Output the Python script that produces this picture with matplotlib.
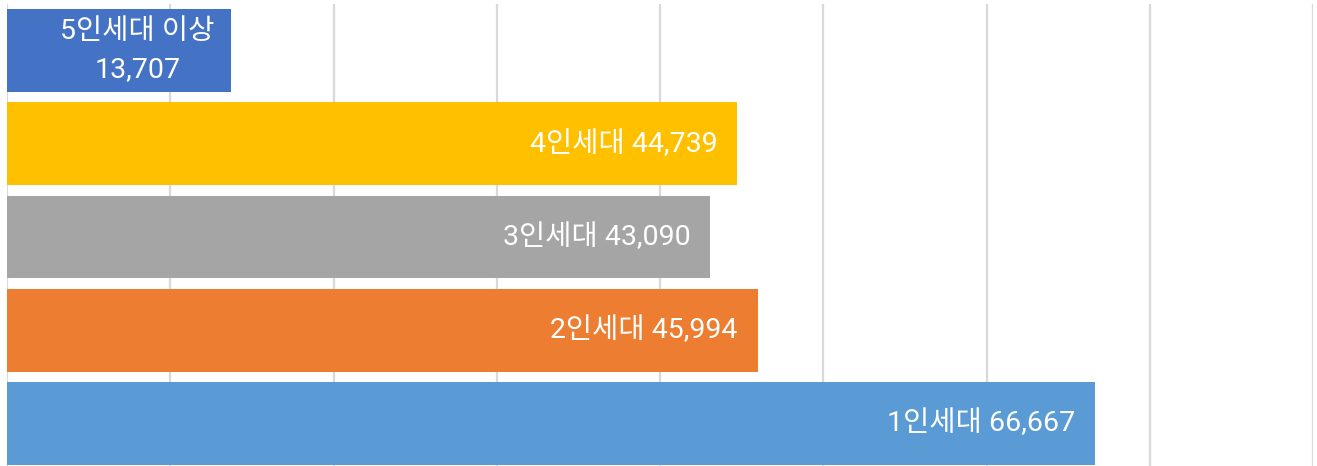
import matplotlib.pyplot as plt

plt.rcParams['font.family'] = ['Roboto', 'Noto Sans CJK KR', 'DejaVu Sans']

# 세대원수별 데이터
labels = ['1인세대', '2인세대', '3인세대', '4인세대', '5인세대 이상']
values = [66667, 45994, 43090, 44739, 13707]
colors = ['#5B9BD5', '#ED7D31', '#A5A5A5', '#FFC000', '#4472C4']
ticks = [0, 10000, 20000, 30000, 40000, 50000, 60000, 70000, 80000]

fig = plt.figure(figsize=(13.17, 4.66), dpi=100)
ax = fig.add_axes([7 / 1317, 0, 1306 / 1317, 462 / 466])

y = list(range(len(values)))
ax.barh(y, values, height=0.89, color=colors, zorder=2)

for i, (lab, v) in enumerate(zip(labels, values)):
    if v < 20000:
        # 좁은 막대는 두 줄로
        txt = lab + '\n' + format(v, ',')
        ax.text(v - 1000, i, txt, ha='right', va='center', multialignment='center',
                color='white', fontsize=20.5, linespacing=1.5, zorder=3)
    else:
        txt = lab + ' ' + format(v, ',')
        ax.text(v - 1230, i, txt, ha='right', va='center', color='white',
                fontsize=20.5, zorder=3)

ax.set_xlim(0, 80000)
ax.set_ylim(-0.457, 4.5)
ax.set_xticks(ticks)
ax.set_yticks([])
ax.tick_params(axis='x', length=0, labelbottom=False)
ax.grid(axis='x', color='#D9D9D9', linewidth=1.6, zorder=0)
for s in ax.spines.values():
    s.set_visible(False)

fig.savefig('out.png', dpi=100)
